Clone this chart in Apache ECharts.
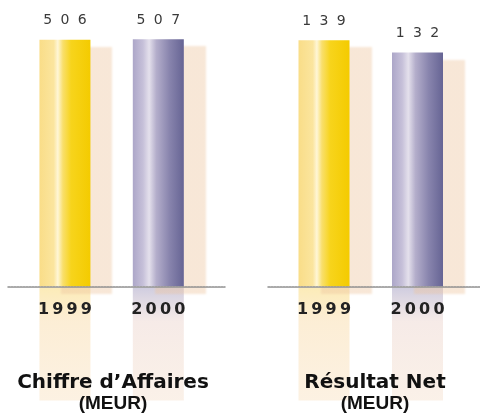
<!DOCTYPE html>
<html>
<head>
<meta charset="utf-8">
<style>
  html, body { margin: 0; padding: 0; background: #ffffff; }
  #chart { width: 480px; height: 414px; }
</style>
<script src="https://cdn.jsdelivr.net/npm/echarts@6/dist/echarts.min.js"></script>
</head>
<body>
<div id="chart"></div>
<script>
// Yearly figures, in millions of euros
const years = ['1999', '2000'];
const chiffreAffaires = [506, 507];
const resultatNet = [139, 132];
const panelTitles = ['Chiffre d\u2019Affaires', 'R\u00e9sultat Net'];
const unitLabel = '(MEUR)';

// Digits drawn with extra spacing between them
function spaced(str, gap) {
  return String(str).split('').join(gap);
}

function barGradient(i) {
  if (i === 0) {
    return new echarts.graphic.LinearGradient(0, 0, 1, 0, [
      { offset: 0, color: '#f9dd88' },
      { offset: 0.28, color: '#fbe59e' },
      { offset: 0.36, color: '#fff6d6' },
      { offset: 0.46, color: '#f9df6c' },
      { offset: 0.62, color: '#f7d41c' },
      { offset: 1, color: '#f4cb00' }
    ]);
  }
  return new echarts.graphic.LinearGradient(0, 0, 1, 0, [
    { offset: 0, color: '#aca6c8' },
    { offset: 0.2, color: '#c6c0d9' },
    { offset: 0.32, color: '#e4e0ec' },
    { offset: 0.46, color: '#b4aecb' },
    { offset: 0.72, color: '#8884ad' },
    { offset: 1, color: '#666494' }
  ]);
}

function reflectionGradient(i) {
  const stops = i === 0
    ? ['rgba(248,212,96,0.45)', 'rgba(248,212,150,0.40)', 'rgba(246,210,160,0.30)']
    : ['rgba(150,144,186,0.45)', 'rgba(232,204,196,0.40)', 'rgba(240,208,180,0.30)'];
  return new echarts.graphic.LinearGradient(0, 0, 0, 1, [
    { offset: 0, color: stops[0] },
    { offset: 0.3, color: stops[1] },
    { offset: 1, color: stops[2] }
  ]);
}

function barData(values) {
  return values.map((v, i) => ({
    value: v,
    itemStyle: {
      color: barGradient(i),
      shadowColor: 'rgba(238,198,160,0.42)',
      shadowBlur: 2,
      shadowOffsetX: 22,
      shadowOffsetY: 7
    }
  }));
}

function reflectionData(values) {
  return values.map((v, i) => ({
    value: v,
    itemStyle: { color: reflectionGradient(i) }
  }));
}

const fontDigits = 'DejaVu Sans';

function barXAxis(gridIndex) {
  return {
    type: 'category',
    gridIndex: gridIndex,
    data: years,
    z: 10,
    axisLine: { show: false },
    axisTick: { show: false },
    axisLabel: {
      margin: 15,
      fontFamily: fontDigits,
      fontWeight: 'bold',
      fontSize: 16,
      color: '#222222',
      formatter: (v) => spaced(v, '\u2009')
    }
  };
}

function plainXAxis(gridIndex) {
  return {
    type: 'category',
    gridIndex: gridIndex,
    data: years,
    show: false
  };
}

function baselineXAxis(gridIndex) {
  return {
    type: 'category',
    gridIndex: gridIndex,
    data: [],
    z: 9,
    axisLine: { show: true, lineStyle: { color: '#8f8f8f', width: 1.5, type: [2, 1] } },
    axisTick: { show: false },
    axisLabel: { show: false }
  };
}

function yAxis(gridIndex, max, inverse) {
  return {
    type: 'value',
    gridIndex: gridIndex,
    min: 0,
    max: max,
    inverse: !!inverse,
    show: false,
    splitLine: { show: false }
  };
}

function valueLabel() {
  return {
    show: true,
    position: 'top',
    distance: 12,
    fontFamily: fontDigits,
    fontSize: 14,
    color: '#3a3a3a',
    formatter: (p) => spaced(p.value, '\u2002\u200a')
  };
}

function titleBlock(text, centerX) {
  return {
    text: '{a|' + text + '}\n{b|' + unitLabel + '}',
    left: centerX,
    top: 372,
    padding: 0,
    textAlign: 'center',
    textStyle: {
      rich: {
        a: { fontFamily: 'DejaVu Sans', fontWeight: 'bold', fontSize: 20, color: '#111111', lineHeight: 21, align: 'center' },
        b: { fontFamily: 'Liberation Sans', fontWeight: 'bold', fontSize: 19, color: '#111111', lineHeight: 21, align: 'center' }
      }
    }
  };
}

const chart = echarts.init(document.getElementById('chart'), null, { renderer: 'canvas' });

chart.setOption({
  animation: false,
  backgroundColor: '#ffffff',
  title: [
    titleBlock(panelTitles[0], 113),
    titleBlock(panelTitles[1], 375)
  ],
  grid: [
    // bars
    { left: 18.25, right: 275, top: 29.5, height: 257 },
    { left: 277.25, right: 15.75, top: 29.5, height: 257 },
    // reflections below the baseline
    { left: 18.25, right: 275, top: 287.5, height: 113 },
    { left: 277.25, right: 15.75, top: 287.5, height: 113 },
    // baselines
    { left: 8, right: 255, top: 29.5, height: 257 },
    { left: 268, right: 0, top: 29.5, height: 257 }
  ],
  xAxis: [
    barXAxis(0),
    barXAxis(1),
    plainXAxis(2),
    plainXAxis(3),
    baselineXAxis(4),
    baselineXAxis(5)
  ],
  yAxis: [
    yAxis(0, 527),
    yAxis(1, 145),
    yAxis(2, 232, true),
    yAxis(3, 64, true),
    yAxis(4, 1),
    yAxis(5, 1)
  ],
  series: [
    {
      type: 'bar', xAxisIndex: 2, yAxisIndex: 2, barWidth: 51, clip: true,
      data: reflectionData(chiffreAffaires), z: 1
    },
    {
      type: 'bar', xAxisIndex: 3, yAxisIndex: 3, barWidth: 51, clip: true,
      data: reflectionData(resultatNet), z: 1
    },
    {
      type: 'bar', xAxisIndex: 0, yAxisIndex: 0, barWidth: 51,
      data: barData(chiffreAffaires), label: valueLabel(), z: 3
    },
    {
      type: 'bar', xAxisIndex: 1, yAxisIndex: 1, barWidth: 51,
      data: barData(resultatNet), label: valueLabel(), z: 3
    }
  ]
});
</script>
</body>
</html>
